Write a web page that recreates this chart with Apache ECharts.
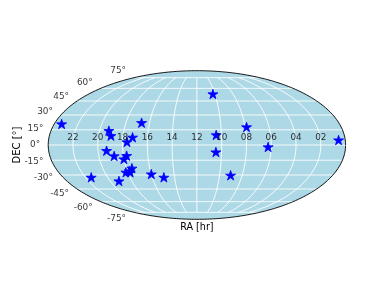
<!DOCTYPE html>
<html>
<head>
<meta charset="utf-8">
<style>html,body{margin:0;padding:0;background:#fff}#c{width:384px;height:288px}</style>
<script src="https://cdn.jsdelivr.net/npm/echarts@6/dist/echarts.min.js"></script>
</head>
<body>
<div id="c"></div>
<script>
var raHours = [23.38,16.68,17.22,19.24,18.99,17.65,19.31,18.75,17.73,18.0,17.52,17.83,18.16,17.79,21.47,19.19,16.0,14.96,10.22,10.43,7.87,0.54,6.25,10.46,9.02];
var decDegrees = [20.8,22.1,7.57,14.1,9.15,2.95,-5.6,-10.8,-10.5,-13.8,-23.1,-25.9,-27.2,-27.2,-32.4,-36.3,-29,-32.4,53.1,9.84,17.8,4.9,-1.96,-6.9,-30.3];
var raTicks = ['22','20','18','16','14','12','10','08','06','04','02'];
var decTicks = [75,60,45,30,15,0,-15,-30,-45,-60,-75];
var xLabel = 'RA [hr]';
var yLabel = 'DEC [°]';

var R2 = Math.SQRT2;
function mollweide(lonDeg, latDeg) {
  var phi = latDeg * Math.PI / 180, target = Math.PI * Math.sin(phi);
  var lo = -Math.PI / 2, hi = Math.PI / 2;
  for (var i = 0; i < 50; i++) {
    var m = (lo + hi) / 2;
    if (2 * m + Math.sin(2 * m) < target) lo = m; else hi = m;
  }
  var t = (lo + hi) / 2;
  return [2 * R2 * (lonDeg / 180) * Math.cos(t), R2 * Math.sin(t)];
}
function raToLon(h) { return (12 - h) * 15; }

var boundary = [];
for (var a = 0; a <= 720; a++) {
  var t = a / 720 * 2 * Math.PI;
  boundary.push([2 * R2 * Math.cos(t), R2 * Math.sin(t)]);
}
var stars = raHours.map(function (h, i) { return mollweide(raToLon(h), decDegrees[i]); });

var gridSeries = [];
function gridLine(pts) {
  gridSeries.push({
    type: 'line', data: pts, symbol: 'none', silent: true, z: 2,
    lineStyle: { color: '#ffffff', width: 0.9 }
  });
}
decTicks.forEach(function (lat) {
  var p = [];
  for (var l = -180; l <= 180; l += 2) p.push(mollweide(l, lat));
  gridLine(p);
});
raTicks.forEach(function (r) {
  var p = [], lon = raToLon(+r);
  for (var l = -75; l <= 75; l += 1) p.push(mollweide(lon, l));
  gridLine(p);
});

var raLabelData = raTicks.map(function (r) {
  return { value: mollweide(raToLon(+r), 0), name: r };
});
var decLabelData = decTicks.map(function (d) {
  var p = mollweide(-180, d);
  return { value: [p[0], p[1] * 1.1], name: d + '°' };
});

var chart = echarts.init(document.getElementById('c'), null, { renderer: 'canvas', width: 384, height: 288 });
var FONT = 'DejaVu Sans';
chart.setOption({
  animation: false,
  backgroundColor: '#ffffff',
  grid: { left: 48.2, top: 70.7, width: 297.4, height: 148.6 },
  xAxis: {
    type: 'value', min: -2 * R2, max: 2 * R2,
    axisLine: { show: false }, axisTick: { show: false }, axisLabel: { show: false }, splitLine: { show: false },
    name: xLabel, nameLocation: 'middle', nameGap: 8.5,
    nameTextStyle: { fontFamily: FONT, fontSize: 9.6, color: '#000', verticalAlign: 'middle' }
  },
  yAxis: {
    type: 'value', min: -R2, max: R2,
    axisLine: { show: false }, axisTick: { show: false }, axisLabel: { show: false }, splitLine: { show: false },
    name: yLabel, nameLocation: 'middle', nameGap: 31,
    nameTextStyle: { fontFamily: FONT, fontSize: 10, color: '#000', verticalAlign: 'middle' }
  },
  series: [
    {
      type: 'custom', silent: true, z: 1, clip: false,
      data: [[0, 0]],
      renderItem: function (params, api) {
        return {
          type: 'polygon',
          shape: { points: boundary.map(function (p) { return api.coord(p); }) },
          style: { fill: '#add8e6', stroke: 'none' }
        };
      }
    }
  ].concat(gridSeries).concat([
    {
      type: 'line', data: boundary, symbol: 'none', silent: true, z: 3, clip: false,
      lineStyle: { color: '#000000', width: 0.9 }
    },
    {
      type: 'scatter', data: stars, z: 4, clip: false,
      symbol: 'path://M50 0L61.8 36.3L100 36.3L69.1 58.8L80.9 95.1L50 72.6L19.1 95.1L30.9 58.8L0 36.3L38.2 36.3Z',
      symbolSize: [10, 9.5],
      itemStyle: { color: '#0000ff', borderColor: '#0000ff', borderWidth: 0.8, opacity: 1 }
    },
    {
      type: 'scatter', data: raLabelData, z: 5, symbolSize: 0, silent: true, clip: false,
      label: {
        show: true, formatter: '{b}', position: 'inside', offset: [0, -7.5],
        fontFamily: FONT, fontSize: 8.9, color: '#000'
      }
    },
    {
      type: 'scatter', data: decLabelData, z: 5, symbolSize: 0, silent: true, clip: false,
      label: {
        show: true, formatter: '{b}', position: 'left', distance: 8,
        fontFamily: FONT, fontSize: 8.9, color: '#000'
      }
    }
  ])
});
</script>
</body>
</html>
